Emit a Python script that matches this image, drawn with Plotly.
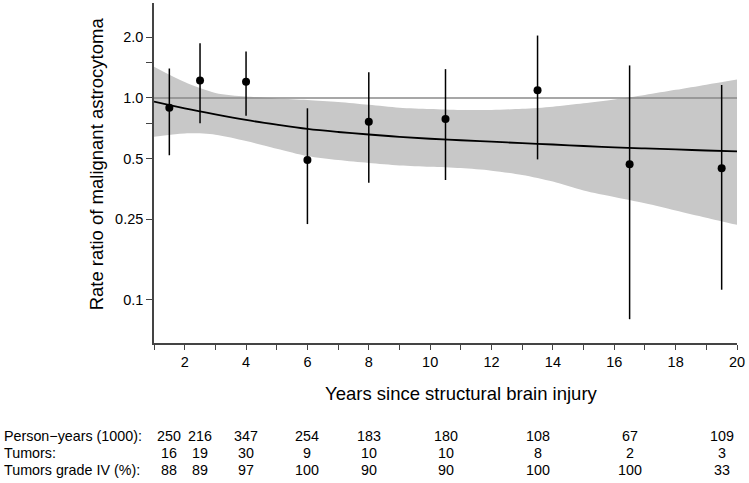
import plotly.graph_objects as go

# ---- data ----
interval_mid = [1.5, 2.5, 4, 6, 8, 10.5, 13.5, 16.5, 19.5]
rate_ratio = [0.895, 1.22, 1.205, 0.493, 0.763, 0.787, 1.092, 0.469, 0.448]
ci_upper = [1.40, 1.87, 1.70, 0.889, 1.34, 1.39, 2.04, 1.45, 1.16]
ci_lower = [0.52, 0.749, 0.817, 0.237, 0.38, 0.392, 0.496, 0.080, 0.112]

curve_years = [1, 2, 3, 4, 5, 6, 7, 8, 9, 10, 11, 12, 13, 14, 15, 16, 17, 18, 19, 20]
curve_fit = [0.959, 0.888, 0.829, 0.778, 0.737, 0.702, 0.678, 0.659, 0.642, 0.628,
             0.617, 0.607, 0.597, 0.588, 0.578, 0.569, 0.562, 0.556, 0.549, 0.543]
band_upper = [1.43, 1.20, 1.06, 1.017, 0.995, 0.978, 0.955, 0.925, 0.895, 0.882,
              0.872, 0.872, 0.884, 0.906, 0.941, 0.983, 1.035, 1.097, 1.164, 1.235]
band_lower = [0.643, 0.667, 0.658, 0.612, 0.56, 0.515, 0.492, 0.476, 0.463, 0.456,
              0.449, 0.436, 0.415, 0.385, 0.348, 0.323, 0.301, 0.277, 0.255, 0.235]

person_years = ["250", "216", "347", "254", "183", "180", "108", "67", "109"]
tumors = ["16", "19", "30", "9", "10", "10", "8", "2", "3"]
grade_iv = ["88", "89", "97", "100", "90", "90", "100", "100", "33"]
row_labels = ["Person\u2212years (1000):", "Tumors:", "Tumors grade IV (%):"]

x_tickvals = list(range(1, 21))
x_ticktext = [str(v) if v % 2 == 0 else "" for v in x_tickvals]
y_tickvals = [0.1, 0.25, 0.5, 0.75, 1.0, 1.5, 2.0]
y_ticktext = ["0.1", "0.25", "0.5", "", "1.0", "", "2.0"]

FONT = "Liberation Sans, Arial, Helvetica, sans-serif"

fig = go.Figure()

# confidence band
fig.add_trace(go.Scatter(x=curve_years, y=band_lower, mode="lines",
                         line=dict(width=0, shape="spline", smoothing=0.8, color="rgba(0,0,0,0)"),
                         showlegend=False, hoverinfo="skip"))
fig.add_trace(go.Scatter(x=curve_years, y=band_upper, mode="lines", fill="tonexty",
                         fillcolor="#c8c8c8",
                         line=dict(width=0, shape="spline", smoothing=0.8, color="rgba(0,0,0,0)"),
                         showlegend=False, hoverinfo="skip"))
# reference line at 1
fig.add_trace(go.Scatter(x=[curve_years[0], curve_years[-1]], y=[1, 1], mode="lines",
                         line=dict(color="#8a8a8a", width=1.5), showlegend=False,
                         hoverinfo="skip"))
# fitted curve
fig.add_trace(go.Scatter(x=curve_years, y=curve_fit, mode="lines",
                         line=dict(color="black", width=1.8, shape="spline"),
                         showlegend=False))
# points with CIs
fig.add_trace(go.Scatter(
    x=interval_mid, y=rate_ratio, mode="markers",
    marker=dict(color="black", size=8),
    error_y=dict(type="data", symmetric=False,
                 array=[u - r for u, r in zip(ci_upper, rate_ratio)],
                 arrayminus=[r - l for r, l in zip(rate_ratio, ci_lower)],
                 color="black", thickness=1.5, width=0),
    showlegend=False))

# table annotations
rows = [person_years, tumors, grade_iv]
row_y = [-0.2735, -0.3235, -0.3735]
for lab, vals, yy in zip(row_labels, rows, row_y):
    fig.add_annotation(text=lab, xref="paper", yref="paper", x=-0.260, y=yy,
                       xanchor="left", yanchor="middle", showarrow=False,
                       font=dict(size=14.3, color="black", family=FONT))
    for xv, v in zip(interval_mid, vals):
        fig.add_annotation(text=v, xref="x", yref="paper", x=xv, y=yy,
                           xanchor="center", yanchor="middle", showarrow=False,
                           font=dict(size=14.3, color="black", family=FONT))

# axis titles
fig.add_annotation(text="Years since structural brain injury", xref="paper", yref="paper",
                   x=0.5274, y=-0.15, xanchor="center", yanchor="middle", showarrow=False,
                   font=dict(size=18.5, color="black", family=FONT))
fig.add_annotation(text="Rate ratio of malignant astrocytoma", xref="paper", yref="paper",
                   x=-0.098, y=0.528, xanchor="center", yanchor="middle", showarrow=False,
                   textangle=-90, font=dict(size=18.5, color="black", family=FONT))

fig.update_layout(
    width=749, height=483,
    margin=dict(l=154, r=12, t=3, b=140),
    plot_bgcolor="white", paper_bgcolor="white",
    font=dict(family=FONT, size=14.5, color="black"),
    xaxis=dict(range=[1, 20], tickvals=x_tickvals, ticktext=x_ticktext,
               ticks="outside", ticklen=5, tickwidth=1, tickcolor="#444",
               showline=True, linecolor="#444", linewidth=1.5,
               showgrid=False, zeroline=False, tickfont=dict(size=14.5)),
    yaxis=dict(type="log", range=[-1.215, 0.471], tickvals=y_tickvals, ticktext=y_ticktext,
               ticks="outside", ticklen=6, tickwidth=1, tickcolor="#444",
               showline=True, linecolor="#444", linewidth=1.5,
               showgrid=False, zeroline=False, tickfont=dict(size=14.5)),
)

fig.write_html("out.html", config={"displayModeBar": False},
               post_script="document.body.style.margin='0px';")
